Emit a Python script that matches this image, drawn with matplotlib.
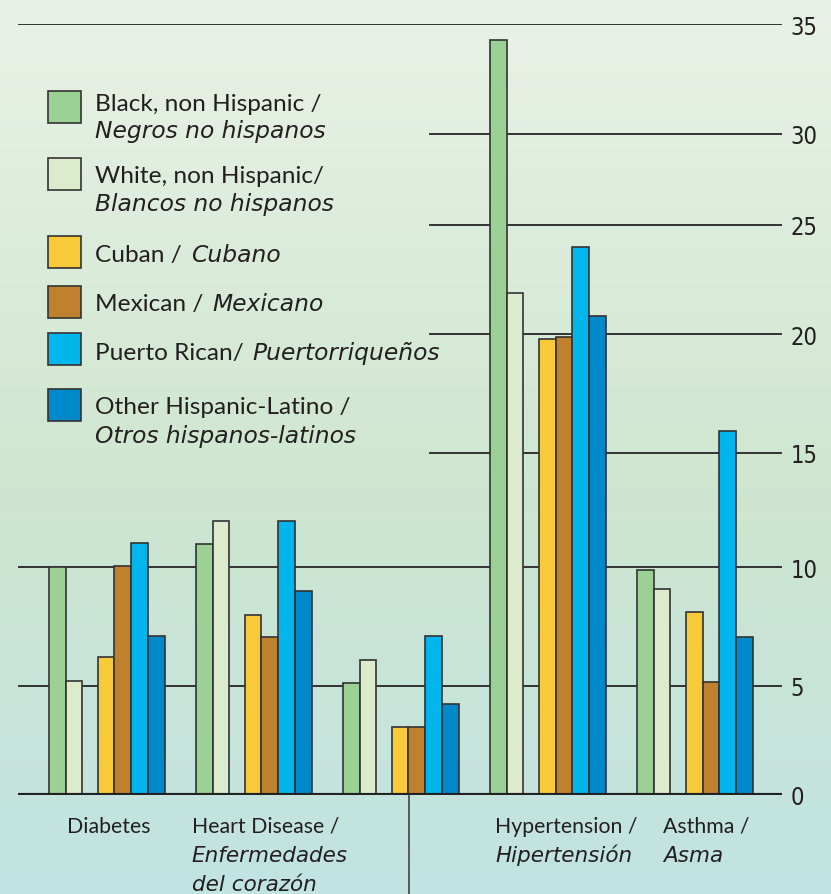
#!/usr/bin/env python3
import numpy as np
import matplotlib
matplotlib.use("Agg")
import matplotlib.pyplot as plt
from matplotlib.patches import Rectangle
from matplotlib.lines import Line2D
from matplotlib.transforms import blended_transform_factory

OUT_FILE = "out.png"
W, H = 831, 895

# groups of bars, left to right (the third group carries no label in the source)
conditions = ["Diabetes", "Heart Disease", "", "Hypertension", "Asthma"]

black_nh = [10, 11, 5.1, 34.3, 9.9]
white_nh = [5.2, 12, 6.1, 21.9, 9.1]
cuban = [6.2, 8, 3.1, 19.8, 8.1]
mexican = [10.05, 7.05, 3.1, 19.9, 5.15]
puerto_rican = [11.05, 12, 7.1, 24, 15.9]
other_hisp = [7.1, 9, 4.15, 20.85, 7.05]

series_en = ["Black, non Hispanic /", "White, non Hispanic/", "Cuban /",
             "Mexican /", "Puerto Rican/", "Other Hispanic-Latino /"]
series_es = ["Negros no hispanos", "Blancos no hispanos", "Cubano",
             "Mexicano", "Puertorriqueños", "Otros hispanos-latinos"]

cat_en = ["Diabetes", "Heart Disease /", "", "Hypertension /", "Asthma /"]
cat_es = [[], ["Enfermedades", "del corazón"], [], ["Hipertensión"], ["Asma"]]

yticks = [0, 5, 10, 15, 20, 25, 30, 35]
# the printed scale is hand drawn: tick spacing is not even (pixels above baseline)
tick_px = [0, 109, 227.4, 342, 460.4, 570, 661, 770.4]

COLORS = ["#9bd194", "#dcebcb", "#f8c939", "#c0812e", "#00b6ec", "#0089ca"]
EDGE = "#333333"
TXT = "#231f20"
FONT = "Lato"
ITAL = "DejaVu Sans"


def fx(px):
    return px / W


def fy(py):
    return 1 - py / H


def fwd(v):
    return np.interp(v, yticks, tick_px)


def inv(h):
    return np.interp(h, tick_px, yticks)


def draw_background(fig):
    bg = fig.add_axes([0, 0, 1, 1], zorder=-10)
    top = np.array([234, 242, 231]) / 255
    mid = np.array([206, 230, 208]) / 255
    bot = np.array([193, 227, 226]) / 255
    t = np.linspace(0, 1, 300)[:, None]
    grad = np.where(t < 0.55, top + (mid - top) * (t / 0.55),
                    mid + (bot - mid) * ((t - 0.55) / 0.45))
    img = np.repeat(grad[:, None, :], 2, axis=1)
    bg.imshow(img, aspect="auto", extent=(0, 1, 0, 1))
    bg.set_axis_off()


def draw_bars(ax):
    series = [black_nh, white_nh, cuban, mexican, puerto_rican, other_hisp]
    width = 0.1136
    slots = [0, 1, 2.92, 3.92, 4.92, 5.92]
    x = np.arange(len(conditions))
    for vals, slot, col in zip(series, slots, COLORS):
        ax.bar(x + slot * width, vals, width, align="edge", color=col,
               edgecolor=EDGE, linewidth=1.2, zorder=3)

    # gridlines; the middle ones stop where the legend sits
    for yv in yticks[1:]:
        start = 0.0 if yv in (5, 10, 35) else 0.539
        ax.axhline(yv, xmin=start, xmax=1, color="#333333", lw=1.4, zorder=1)
    ax.axhline(0, color="#222222", lw=3, zorder=4)


def draw_axis(ax):
    ax.set_yscale("function", functions=(fwd, inv))
    ax.set_xlim(-0.211, 4.986)
    ax.set_ylim(0, 35)
    for s in ax.spines.values():
        s.set_visible(False)
    ax.set_xticks([])
    ax.yaxis.tick_right()
    ax.set_yticks(yticks)
    ax.set_yticklabels([str(v) for v in yticks], family="DejaVu Sans",
                       fontstretch="condensed", fontsize=17, color=TXT)
    ax.yaxis.set_minor_locator(matplotlib.ticker.NullLocator())
    ax.tick_params(axis="y", length=0, pad=6)
    ax.patch.set_alpha(0)


def draw_legend(fig):
    box_tops = [92, 159, 237, 287, 334, 390]
    base1 = [110.7, 182.7, 262, 311, 360, 414.3]
    base2 = [138.3, 210.7, None, None, None, 442.7]
    for i in range(len(series_en)):
        fig.add_artist(Rectangle((fx(48), fy(box_tops[i] + 32)), fx(33), 32 / H,
                                 facecolor=COLORS[i], edgecolor=EDGE, lw=1.2,
                                 transform=fig.transFigure))
        t = fig.text(fx(95), fy(base1[i]), series_en[i], family=FONT,
                     fontsize=17.6, color=TXT, va="baseline")
        if base2[i] is None:
            # italic Spanish name continues on the same line
            fig.canvas.draw()
            bb = t.get_window_extent()
            fig.text(bb.x1 / W + fx(9), fy(base1[i]), series_es[i], family=ITAL,
                     style="italic", fontsize=16.8, color=TXT, va="baseline")
        else:
            fig.text(fx(95), fy(base2[i]), series_es[i], family=ITAL,
                     style="italic", fontsize=16.8, color=TXT, va="baseline")


def draw_categories(fig, ax):
    offsets = [0.12, -0.029, 0, 0.034, 0.179]
    trans = blended_transform_factory(ax.transData, fig.transFigure)
    base = [832.7, 862.3, 890.7]
    for g, (en, es) in enumerate(zip(cat_en, cat_es)):
        if not en:
            continue
        ax.text(g + offsets[g], fy(base[0]), en, transform=trans, family=FONT,
                fontsize=15.3, color=TXT, va="baseline", clip_on=False)
        for k, line in enumerate(es):
            ax.text(g + offsets[g], fy(base[k + 1]), line, transform=trans,
                    family=ITAL, style="italic", fontsize=15.5, color=TXT,
                    va="baseline", clip_on=False)
    # small divider under the unlabeled group, down to the page edge
    ax.add_line(Line2D([2.449, 2.449], [fy(796), 0], transform=trans,
                       color="#444444", lw=1.2, clip_on=False, zorder=4))


def main():
    fig = plt.figure(figsize=(W / 100, H / 100), dpi=100)
    draw_background(fig)
    ax = fig.add_axes([fx(18), fy(795.7), fx(764), 770.4 / H])
    draw_bars(ax)
    draw_axis(ax)
    draw_legend(fig)
    draw_categories(fig, ax)
    fig.savefig(OUT_FILE, dpi=100)
    plt.close(fig)


if __name__ == "__main__":
    main()
